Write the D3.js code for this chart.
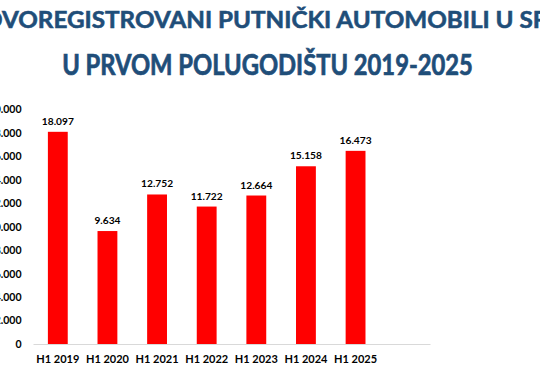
<!DOCTYPE html>
<html>
<head>
<meta charset="utf-8">
<script src="https://cdn.jsdelivr.net/npm/d3@7"></script>
<style>
  html, body { margin: 0; padding: 0; background: #fff; overflow: hidden; }
  svg { display: block; font-family: Lato, "Open Sans", sans-serif; }
</style>
</head>
<body>
<svg id="chart" width="540" height="370"></svg>
<script>
// Chart data
const titleLines = ['NOVOREGISTROVANI PUTNIČKI AUTOMOBILI U SRBIJI', 'U PRVOM POLUGODIŠTU 2019-2025'];
const categories = ['H1 2019', 'H1 2020', 'H1 2021', 'H1 2022', 'H1 2023', 'H1 2024', 'H1 2025'];
const values = [18097, 9634, 12752, 11722, 12664, 15158, 16473];
const yTicks = [0, 2000, 4000, 6000, 8000, 10000, 12000, 14000, 16000, 18000, 20000];

const fmt = v => d3.format(',')(v).replace(/,/g, '.');

const svg = d3.select('#chart');
const plot = { left: 33, right: 430, top: 109.5, bottom: 344 };

// Title: the source font (Calibri) is narrow, so fit the width and
// stretch a little vertically to get the same cap height
const titleColor = '#1F4E79';
const capRatio = 0.72; // Lato cap height / em

function titleLine(text, baseline, capTarget) {
  const g = svg.append('g');
  const t = g.append('text')
    .attr('font-weight', 700)
    .attr('fill', titleColor)
    .attr('stroke', titleColor)
    .attr('stroke-width', 0.6)
    .attr('font-size', 20)
    .text(text);
  return { g, t, baseline, capTarget };
}

function stretch(line, size) {
  const sy = line.capTarget / (size * capRatio);
  line.g.attr('transform', `translate(0,${line.baseline}) scale(1,${sy})`);
}

// line 1 (clipped on both sides in the source)
const l1 = titleLine(titleLines[0], 28.3, 16);
{
  const node = l1.t.node();
  const sIdx = titleLines[0].lastIndexOf('S');
  const part = node.getSubStringLength(2, sIdx - 1);
  const size = 20 * 531 / part;
  l1.t.attr('font-size', size);
  const lead = node.getSubStringLength(0, 2);
  l1.t.attr('x', 2 - lead);
  stretch(l1, size);
}

// line 2
const l2 = titleLine(titleLines[1], 74.5, 20);
{
  l2.t.attr('text-anchor', 'middle').attr('x', 267.5);
  const w = l2.t.node().getComputedTextLength();
  const size = 20 * 411 / w;
  l2.t.attr('font-size', size);
  stretch(l2, size);
}

// Scales (an empty slot after the last category, as in the source)
const x = d3.scaleBand()
  .domain(categories.concat(['']))
  .range([plot.left, plot.right])
  .paddingInner(0.6)
  .paddingOuter(0.3);

const y = d3.scaleLinear()
  .domain([0, 20000])
  .range([plot.bottom, plot.top]);

// Y axis labels
const yAxis = svg.append('g')
  .attr('transform', `translate(${plot.left},0)`)
  .call(d3.axisLeft(y).tickValues(yTicks).tickFormat(fmt).tickSize(0).tickPadding(11.5));
yAxis.select('.domain').remove();
yAxis.selectAll('text')
  .attr('font-family', 'Lato, sans-serif')
  .attr('font-size', 10.5)
  .attr('font-weight', 700)
  .attr('fill', '#000');

// Bars
svg.append('g')
  .selectAll('rect')
  .data(values)
  .enter()
  .append('rect')
  .attr('x', (d, i) => x(categories[i]))
  .attr('y', d => y(d))
  .attr('width', x.bandwidth())
  .attr('height', d => y(0) - y(d))
  .attr('fill', '#FF0000');

// Value labels
svg.append('g')
  .selectAll('text')
  .data(values)
  .enter()
  .append('text')
  .attr('x', (d, i) => x(categories[i]) + x.bandwidth() / 2)
  .attr('y', d => y(d) - 7)
  .attr('text-anchor', 'middle')
  .attr('font-size', 10.2)
  .attr('font-weight', 700)
  .attr('fill', '#000')
  .text(d => fmt(d));

// X axis
const xAxis = svg.append('g')
  .attr('transform', `translate(0,${plot.bottom})`)
  .call(d3.axisBottom(x).tickSize(0).tickPadding(11.5));
xAxis.select('.domain')
  .attr('stroke', '#D9D9D9')
  .attr('stroke-width', 1);
xAxis.selectAll('text')
  .attr('font-family', 'Lato, sans-serif')
  .attr('font-size', 11)
  .attr('font-weight', 700)
  .attr('fill', '#000');
</script>
</body>
</html>
